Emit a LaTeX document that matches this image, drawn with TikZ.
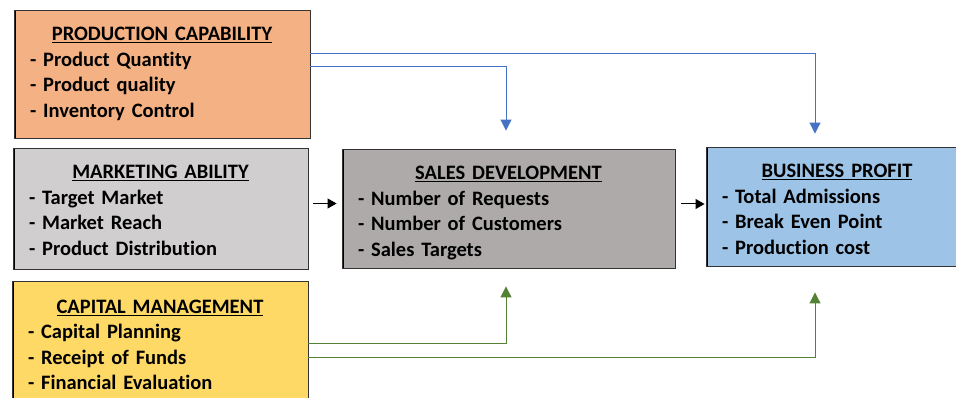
\documentclass[tikz,border=0pt]{standalone}
\usepackage{fontspec}
\setmainfont{Carlito}[Ligatures=NoCommon]
\usetikzlibrary{arrows.meta}

\definecolor{prodfill}{HTML}{F4B183}
\definecolor{mktfill}{HTML}{D0CECE}
\definecolor{salesfill}{HTML}{AEAAAA}
\definecolor{profitfill}{HTML}{9DC3E6}
\definecolor{capfill}{HTML}{FFD966}
\definecolor{flowblue}{HTML}{4472C4}
\definecolor{flowgreen}{HTML}{548235}

% centred heading with a heavier underline
\newcommand{\boxtitle}[1]{\sbox0{#1}%
  \makebox[\hsize][c]{\rlap{\rule[-2.6pt]{\wd0}{1.1pt}}\usebox0}}

\begin{document}
\begin{tikzpicture}[
  x=1pt, y=-1pt,
  every node/.style={rectangle, draw=black!80, line width=0.9pt, inner sep=0pt,
    font=\bfseries\fontsize{20.5}{25.5}\selectfont, align=left},
  factor/.style={minimum height=#1, path picture={
      \draw[line width=3pt, black]
        (path picture bounding box.south west) -- (path picture bounding box.north west);}},
  lower/.style={execute at begin node={\rule{0pt}{#1}}},
  bluearrow/.style={flowblue, line width=1pt, -{Triangle[length=11pt,width=11pt]}},
  greenarrow/.style={flowgreen, line width=1pt, -{Triangle[length=11pt,width=11pt]}},
  blackarrow/.style={black, line width=1pt, -{Triangle[length=9pt,width=10pt]}}
]
\useasboundingbox (0,0) rectangle (956,398);

% inputs on the left
\node[factor=128pt, fill=prodfill, minimum width=296pt, text width=264pt] (prod) at (162,74)
  {\boxtitle{PRODUCTION CAPABILITY}\\ - Product Quantity\\ - Product quality\\ - Inventory Control};
\node[factor=121pt, lower=17pt, fill=mktfill, minimum width=295pt, text width=263pt] (mkt) at (160.5,208.5)
  {\boxtitle{MARKETING ABILITY}\\ - Target Market\\ - Market Reach\\ - Product Distribution};
\node[factor=128pt, fill=capfill, minimum width=296pt, text width=264pt] (cap) at (160,345)
  {\boxtitle{CAPITAL MANAGEMENT}\\ - Capital Planning\\ - Receipt of Funds\\ - Financial Evaluation};

% middle and right
\node[factor=119pt, lower=22pt, fill=salesfill, minimum width=333pt, text width=301pt] (sales) at (508.5,208.5)
  {\boxtitle{SALES DEVELOPMENT}\\ - Number of Requests\\ - Number of Customers\\ - Sales Targets};
\node[factor=119pt, lower=19pt, fill=profitfill, minimum width=262pt, text width=230pt] (profit) at (837,206.5)
  {\boxtitle{BUSINESS PROFIT}\\ - Total Admissions\\ - Break Even Point\\ - Production cost};

% main flow
\draw[blackarrow, shorten <=5pt, shorten >=5pt]
  ([yshift=5pt]mkt.east) -- ([yshift=5pt]mkt.east -| sales.west);
\draw[blackarrow, shorten <=6pt, shorten >=1pt]
  ([yshift=4.5pt]sales.east) -- ([yshift=4.5pt]sales.east -| profit.west);

% production links
\draw[bluearrow] ([yshift=20pt]prod.east) -| ([xshift=-22pt,yshift=13pt]profit.north);
\draw[bluearrow] ([yshift=7pt]prod.east) -| ([xshift=-2.5pt,yshift=18pt]sales.north);

% capital links
\draw[greenarrow] ([yshift=2pt]cap.east) -| ([xshift=-2.5pt,yshift=-18pt]sales.south);
\draw[greenarrow] ([yshift=-12pt]cap.east) -| ([xshift=-22pt,yshift=-26pt]profit.south);

\end{tikzpicture}
\end{document}
